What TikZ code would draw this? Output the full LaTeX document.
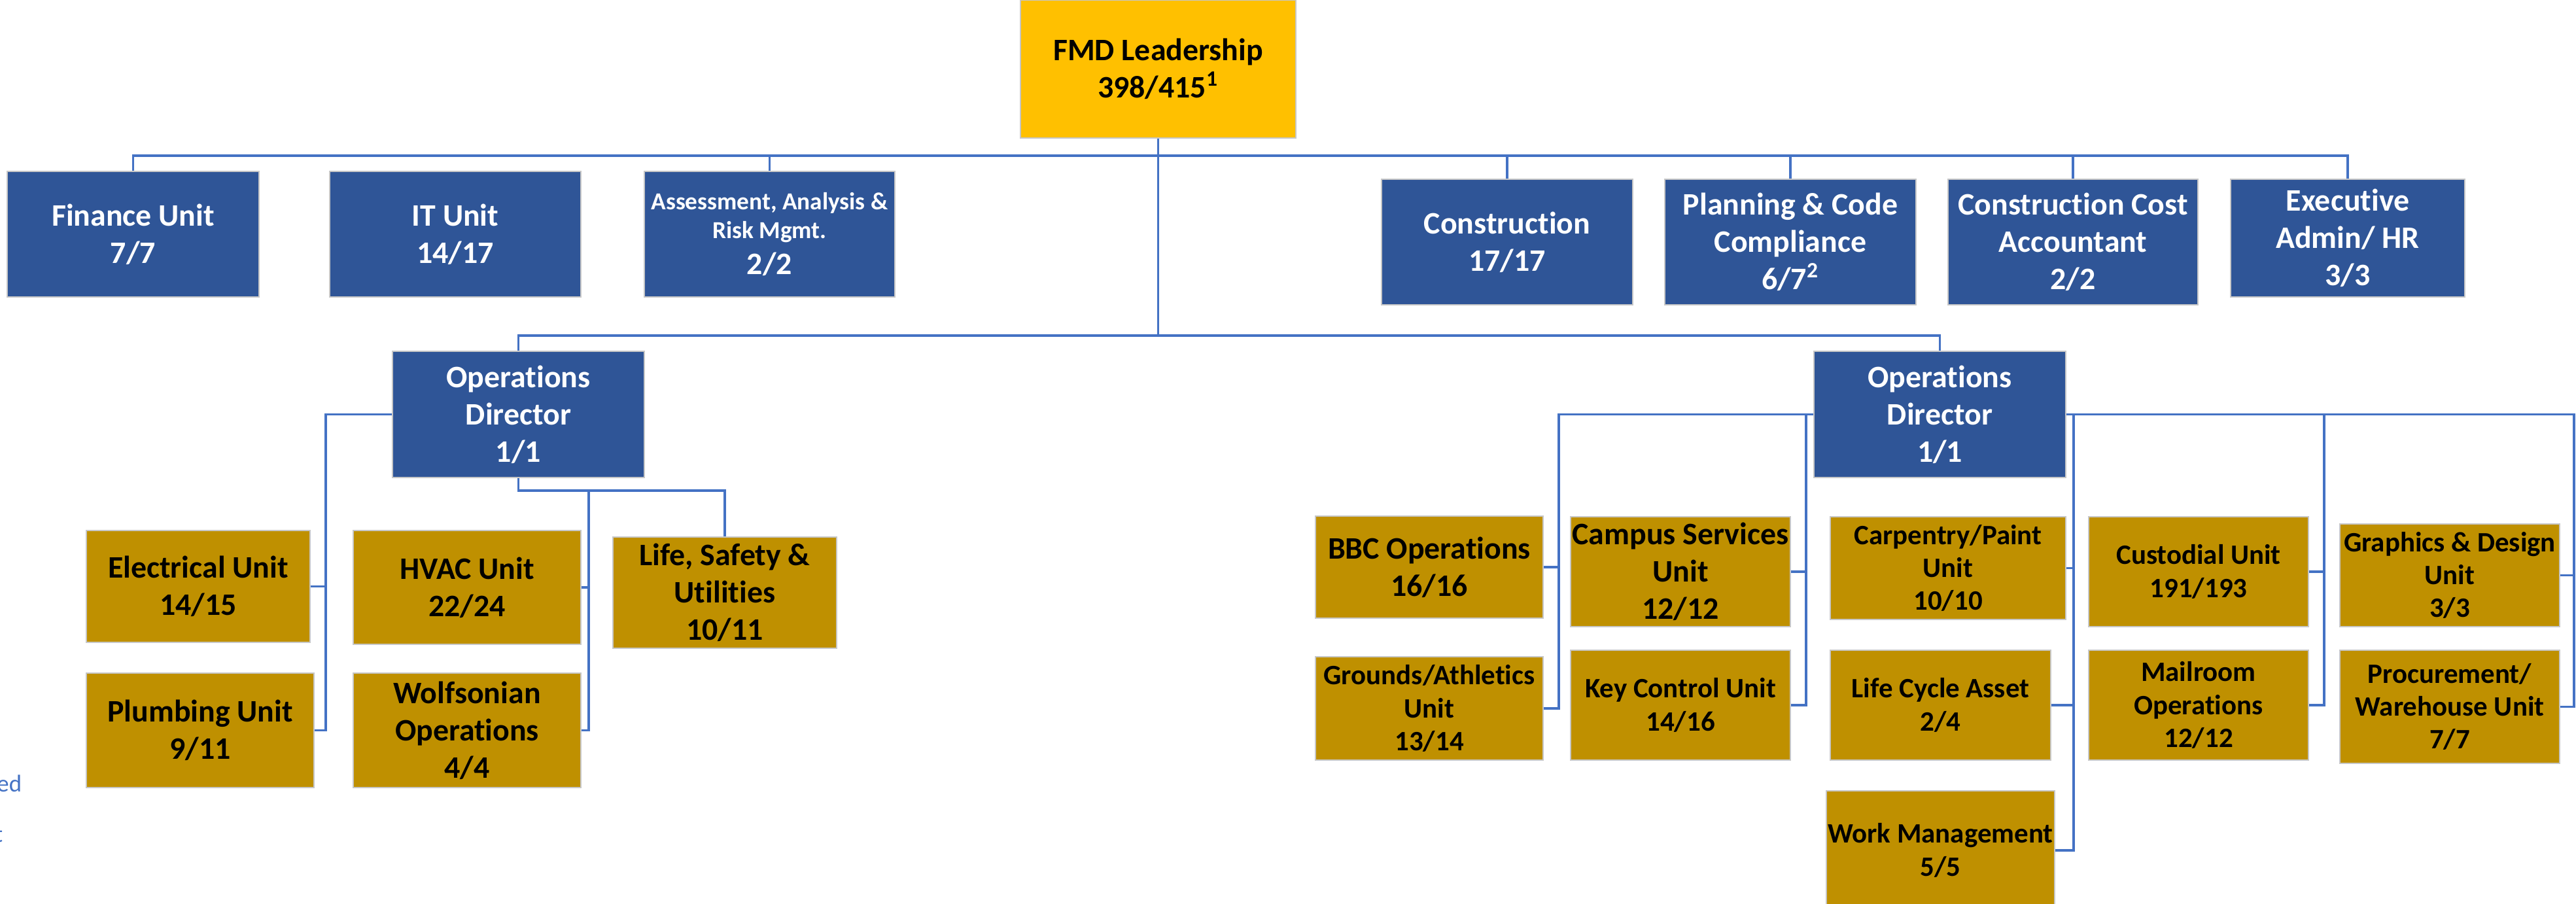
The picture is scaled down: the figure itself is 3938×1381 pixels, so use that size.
\documentclass[tikz,border=0pt]{standalone}
\usepackage{fontspec}
\setmainfont{Carlito}[Ligatures=NoCommon]
\definecolor{fmdnavy}{HTML}{2F5597}
\definecolor{fmdgold}{HTML}{BF9000}
\definecolor{fmdamber}{HTML}{FFC000}
\definecolor{fmdline}{HTML}{4472C4}
\newcommand{\unitfont}{\fontsize{13.6}{16.2}\selectfont\bfseries}
\newcommand{\tightfont}{\fontsize{12.2}{14.3}\selectfont\bfseries}
\newcommand{\notefont}{\fontsize{10.6}{12}\selectfont\bfseries}
\begin{document}
\begin{tikzpicture}
[x = 0.01cm, y = -0.01cm, every node/.style = {shape = rectangle, draw = black!22, line width = 0.5pt, align = center, inner sep = 0pt, font = \unitfont},
 staff/.style = {fill = fmdnavy, text = white},
 unit/.style = {fill = fmdgold, text = black},
 tight/.style = {unit, font = \tightfont},
 link/.style = {draw = fmdline, line width = 0.9pt}]
\useasboundingbox (0,0) rectangle (3938,1381);
\clip (0,0) rectangle (3938,1381);
\node[fill = fmdamber, minimum width = 4.21cm, minimum height = 2.11cm] (lead) at (1770.5,105.5) {FMD Leadership\\398/415\textsuperscript{1}};
\node[staff, minimum width = 3.85cm, minimum height = 1.92cm] (fin) at (203.5,358) {Finance Unit\\7/7};
\node[staff, minimum width = 3.84cm, minimum height = 1.92cm] (it) at (696,358) {IT Unit\\14/17};
\node[staff, minimum width = 3.83cm, minimum height = 1.92cm] (risk) at (1176.5,358) {\notefont Assessment, Analysis \&\\[-3.7pt]\notefont Risk Mgmt.\\[-0.6pt]2/2};
\node[staff, minimum width = 3.84cm, minimum height = 1.92cm] (cons) at (2304,370) {Construction\\17/17};
\node[staff, minimum width = 3.84cm, minimum height = 1.92cm] (plan) at (2737,370) {Planning \& Code\\Compliance\\6/7\textsuperscript{2}};
\node[staff, minimum width = 3.82cm, minimum height = 1.92cm] (cca) at (3169,370) {Construction Cost\\Accountant\\2/2};
\node[staff, minimum width = 3.58cm, minimum height = 1.80cm] (exec) at (3589,364) {Executive\\Admin/ HR\\3/3};
\node[staff, minimum width = 3.85cm, minimum height = 1.93cm] (opl) at (792.5,633.5) {Operations\\Director\\1/1};
\node[staff, minimum width = 3.85cm, minimum height = 1.93cm] (opr) at (2965.5,633.5) {Operations\\Director\\1/1};
\node[unit, minimum width = 3.42cm, minimum height = 1.71cm] (elec) at (303,896.5) {Electrical Unit\\14/15};
\node[unit, minimum width = 3.48cm, minimum height = 1.75cm] (plum) at (306,1116.5) {Plumbing Unit\\9/11};
\node[unit, minimum width = 3.48cm, minimum height = 1.74cm] (hvac) at (714,898) {HVAC Unit\\22/24};
\node[unit, minimum width = 3.48cm, minimum height = 1.75cm] (wolf) at (714,1116.5) {Wolfsonian\\Operations\\4/4};
\node[unit, minimum width = 3.42cm, minimum height = 1.70cm] (life) at (1108,906) {Life, Safety \&\\Utilities\\10/11};
\node[unit, minimum width = 3.48cm, minimum height = 1.56cm] (bbc) at (2185,867) {BBC Operations\\16/16};
\node[tight, minimum width = 3.48cm, minimum height = 1.58cm] (grnd) at (2185,1083) {Grounds/Athletics\\Unit\\13/14};
\node[unit, minimum width = 3.36cm, minimum height = 1.68cm] (camp) at (2569,874) {Campus Services\\Unit\\12/12};
\node[tight, minimum width = 3.36cm, minimum height = 1.68cm] (key) at (2569,1078) {Key Control Unit\\14/16};
\node[tight, minimum width = 3.60cm, minimum height = 1.57cm] (carp) at (2978,868.5) {Carpentry/Paint\\Unit\\10/10};
\node[tight, minimum width = 3.37cm, minimum height = 1.68cm] (cyc) at (2966.5,1078) {Life Cycle Asset\\2/4};
\node[tight, minimum width = 3.49cm, minimum height = 1.82cm] (work) at (2966.5,1300) {Work Management\\5/5};
\node[tight, minimum width = 3.36cm, minimum height = 1.68cm] (cust) at (3361,874) {Custodial Unit\\191/193};
\node[tight, minimum width = 3.36cm, minimum height = 1.68cm] (mail) at (3361,1078) {Mailroom\\Operations\\12/12};
\node[tight, minimum width = 3.36cm, minimum height = 1.57cm] (grph) at (3745,879.5) {Graphics \& Design\\Unit\\3/3};
\node[tight, minimum width = 3.36cm, minimum height = 1.73cm] (proc) at (3745,1080.5) {Procurement/\\Warehouse Unit\\7/7};
\node[draw = none, fill = none, text = fmdline, font = \fontsize{10.5}{12}\selectfont, anchor = base east] (fnone) at (34,1210) {zed};
\node[draw = none, fill = none, text = fmdline, font = \fontsize{10.5}{12}\selectfont, anchor = base east] (fntwo) at (5,1287) {t};
\coordinate (topbar) at (1770.5,238);
\coordinate (midbar) at (1770.5,513);
\draw[link] (lead.south) -- (midbar);
\draw[link] (fin.north) |- (exec.north |- topbar) -- (exec.north);
\foreach \n in {risk, cons, plan, cca}
   \draw[link] (\n.north) -- (\n.north |- topbar);
\draw[link] (opl.north) |- (midbar) -| (opr.north);
\coordinate (lspine) at (498,633.5);
\coordinate (lbar) at (900,750);
\draw[link] (opl.west) -- (lspine) |- (plum.east);
\draw[link] (elec.east) -- (lspine |- elec.east);
\draw[link] (opl.south) |- (life.north |- lbar) -- (life.north);
\draw[link] (lbar) |- (wolf.east);
\draw[link] (hvac.east) -- (lbar |- hvac.east);
\coordinate (rspa) at (2383,633.5);
\coordinate (rspb) at (2761,633.5);
\coordinate (rspc) at (3170,633.5);
\coordinate (rspd) at (3553,633.5);
\coordinate (rspe) at (3935,633.5);
\draw[link] (opr.west) -- (rspa) |- (grnd.east);
\draw[link] (bbc.east) -- (rspa |- bbc.east);
\draw[link] (rspb) |- (key.east);
\draw[link] (camp.east) -- (rspb |- camp.east);
\draw[link] (opr.east) -- (rspe) |- (proc.east);
\draw[link] (grph.east) -- (rspe |- grph.east);
\draw[link] (rspc) |- (work.east);
\draw[link] (carp.east) -- (rspc |- carp.east);
\draw[link] (cyc.east) -- (rspc |- cyc.east);
\draw[link] (rspd) |- (mail.east);
\draw[link] (cust.east) -- (rspd |- cust.east);
\end{tikzpicture}
\end{document}
